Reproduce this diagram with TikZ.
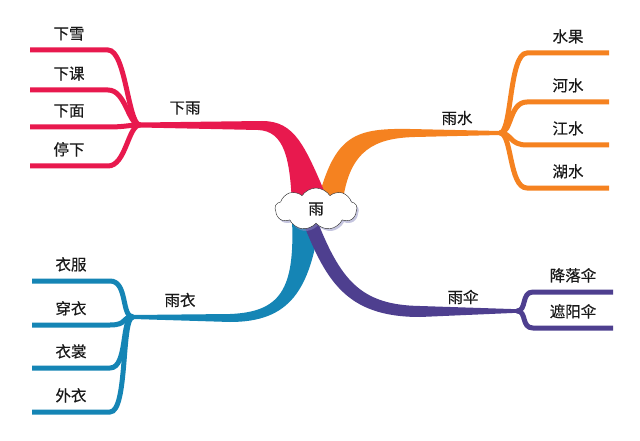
\documentclass[tikz,border=0pt]{standalone}
\usepackage{fontspec}
\setmainfont{Noto Sans CJK SC}[FakeBold=0.4]
\usetikzlibrary{shapes.symbols,shadows,calc,positioning}
\definecolor{rainred}{HTML}{E8194E}
\definecolor{waterorange}{HTML}{F58220}
\definecolor{coatblue}{HTML}{1585B5}
\definecolor{umbpurple}{HTML}{4E3F8F}

\begin{document}
\begin{tikzpicture}[x=1pt,y=-1pt,twig/.style={line width=5pt},
word/.style={font=\fontsize{15.5}{17}\selectfont,text=black!90,inner sep=1pt},
topic/.style={cloud,cloud puffs=9,cloud puff arc=115,aspect=2,draw=black!85,fill=white,thin,
minimum width=82pt,minimum height=42pt,drop shadow={shadow xshift=1.8pt,shadow yshift=-2.2pt,fill=black!55!blue!45}}]
    \path[use as bounding box,fill=white] (0,0) rectangle (640,441);
    \coordinate (c) at (316,209);
    \coordinate (jrain) at (140,125);
    \coordinate (jwater) at (500,133);
    \coordinate (jcoat) at (133,317);
    \coordinate (jumb) at (517,311);
    % main branches
    \fill[coatblue] ($(c)+(-24,11)$) .. controls (295,290) and (280,312) .. (230,314) -- ($(jcoat)+(0,-2)$)
        -- ($(jcoat)+(0,2)$) -- (230,322) .. controls (290,322) and (310,290) .. ($(c)+(4,11)$) -- cycle;
    \fill[umbpurple] ($(c)+(-1,6)$) .. controls (340,280) and (360,305) .. (420,306) -- ($(jumb)+(0,-1.8)$)
        -- ($(jumb)+(0,1.8)$) -- (420,317) .. controls (345,317) and (325,280) .. ($(c)+(-16,6)$) -- cycle;
    \fill[waterorange] ($(c)+(2,-9)$) .. controls (335,135) and (355,128) .. (410,129) -- ($(jwater)+(0,-2)$)
        -- ($(jwater)+(0,2)$) -- (415,137) .. controls (375,138) and (350,150) .. ($(c)+(27,-9)$) -- cycle;
    \fill[rainred] ($(jrain)+(0,-2.5)$) -- (262,121) .. controls (295,121) and (305,145) .. ($(c)+(14,-4)$)
        -- ($(c)+(-24,-4)$) .. controls (290,160) and (285,131) .. (258,130) -- ($(jrain)+(0,2.5)$) -- cycle;
    % sub branches
    \foreach \y/\t [count=\i] in {50/下雪,90/下课,127/下面,166/停下} {
        \coordinate (r\i) at (30,\y);
        \draw[twig,rainred] (r\i) -- ++(78,0) node[midway,above=6pt,word] {\t}
            .. controls +(18,0) and +(-12,0) .. (jrain);
    }
    \foreach \y/\t [count=\i] in {53/水果,102/河水,145/江水,188/湖水} {
        \coordinate (w\i) at (527,\y);
        \draw[twig,waterorange] (jwater) .. controls +(12,0) and +(-18,0) .. (w\i)
            -- ++(82,0) node[midway,above=6pt,word] {\t};
    }
    \foreach \y/\t [count=\i] in {281/衣服,325/穿衣,368/衣裳,412/外衣} {
        \coordinate (k\i) at (32,\y);
        \draw[twig,coatblue] (k\i) -- ++(78,0) node[midway,above=6pt,word] {\t}
            .. controls +(18,0) and +(-12,0) .. (jcoat);
    }
    \foreach \y/\t [count=\i] in {292/降落伞,328/遮阳伞} {
        \coordinate (u\i) at (533,\y);
        \draw[twig,umbpurple] (jumb) .. controls +(10,0) and +(-12,0) .. (u\i)
            -- ++(80,0) node[midway,above=6pt,word] {\t};
    }
    \node[topic,word] (rain) at (c) {雨};
    \node[word] (lrain) at (185,108) {下雨};
    \node[word] (lwater) at (457,118) {雨水};
    \node[word] (lcoat) at (180,300) {雨衣};
    \node[word] (lumb) at (463,297) {雨伞};
\end{tikzpicture}
\end{document}
